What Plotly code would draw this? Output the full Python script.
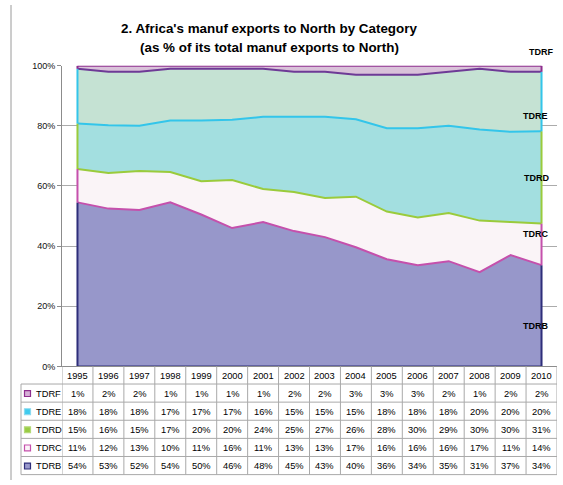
import numpy as np
import plotly.graph_objects as go

# ---------------- data ----------------
years = [str(y) for y in range(1995, 2011)]
tdrb = [54, 53, 52, 54, 50, 46, 48, 45, 43, 40, 36, 34, 35, 31, 37, 34]
tdrc = [11, 12, 13, 10, 11, 16, 11, 13, 13, 17, 16, 16, 16, 17, 11, 14]
tdrd = [15, 16, 15, 17, 20, 20, 24, 25, 27, 26, 28, 30, 29, 30, 30, 31]
tdre = [18, 18, 18, 17, 17, 17, 16, 15, 15, 15, 18, 18, 18, 20, 20, 20]
tdrf = [1, 2, 2, 1, 1, 1, 1, 2, 2, 3, 3, 3, 2, 1, 2, 2]
series_names = ["TDRB", "TDRC", "TDRD", "TDRE", "TDRF"]
series_values = [tdrb, tdrc, tdrd, tdre, tdrf]
y_ticks = [0, 20, 40, 60, 80, 100]

title_lines = ["2. Africa's manuf exports to North by Category",
               "(as % of its total manuf exports to North)"]

# ---------------- styles ----------------
W, H = 563, 485
FONT = "Liberation Sans, Arial, sans-serif"
fills = ["#9797CA", "#FAF4F7", "#A3DFE0", "#C5E2D3", "#D9C1D9"]
borders = ["#2E2E7A", "#C550AC", "#9ACB3C", "#33C5EA", "#8E2F8E"]
top_lines = ["#C550AC", "#9ACB3C", "#33C5EA", "#6E3A96", "#8E2F8E"]
key_fill = ["#9999CC", "#FBF3F8", "#99CC44", "#3FCBEE", "#D6B0D6"]
key_line = ["#2E2E7A", "#C550AC", "#B5D978", "#8ADAF0", "#8E2F8E"]
grid_col = "#ABABAB"
tbl_col = "#A9A9A9"


def X(px):
    return px / W


def Y(py):
    return 1 - py / H


vals = np.array(series_values, dtype=float)
pct = vals / vals.sum(axis=0) * 100
cum_hi = np.cumsum(pct, axis=0)
cum_lo = cum_hi - pct
xi = list(range(len(years)))

fig = go.Figure()

# stacked areas; the boundary line on top of each band takes the border colour
# of the band above (as in the reference, where each area's outline overlaps)
for i, name in enumerate(series_names):
    fig.add_trace(go.Scatter(
        x=xi, y=pct[i], name=name, stackgroup="one", mode="lines",
        line=dict(color=top_lines[i], width=2), fillcolor=fills[i],
        hoverinfo="skip", showlegend=False, cliponaxis=False))

# bottom edge of lowest band
fig.add_trace(go.Scatter(x=[xi[0], xi[-1]], y=[0, 0], mode="lines",
                         line=dict(color=borders[0], width=2),
                         hoverinfo="skip", showlegend=False, cliponaxis=False))
# vertical side edges of each band
for i in range(len(series_names)):
    for j in (0, len(xi) - 1):
        fig.add_trace(go.Scatter(
            x=[xi[j], xi[j]], y=[cum_lo[i][j], cum_hi[i][j]], mode="lines",
            line=dict(color=borders[i], width=2),
            hoverinfo="skip", showlegend=False, cliponaxis=False))

annotations = []
shapes = []

# title
for k, t in enumerate(title_lines):
    annotations.append(dict(text="<b>%s</b>" % t, x=X(269), y=Y(24 + 19.5 * k),
                            xref="paper", yref="paper", showarrow=False,
                            xanchor="center", yanchor="middle",
                            font=dict(family=FONT, size=13.4, color="#000")))

# series labels at right
label_pos = {"TDRF": (541, 48), "TDRE": (535, 113), "TDRD": (536, 177),
             "TDRC": (535, 234), "TDRB": (535, 328)}
for name in series_names:
    px, py = label_pos[name]
    annotations.append(dict(text="<b>%s</b>" % name, x=X(px), y=Y(py),
                            xref="paper", yref="paper", showarrow=False,
                            xanchor="center", yanchor="middle",
                            font=dict(family=FONT, size=9, color="#000")))

# data table
row_edges = [369, 387, 405.5, 424, 442.5, 461, 479.5]
tbl_left, tbl_right = 21, 557
# header years
for j, yr in enumerate(years):
    annotations.append(dict(text=yr, x=xi[j], y=Y((row_edges[0] + row_edges[1]) / 2 + 0.5),
                            xref="x", yref="paper", showarrow=False,
                            xanchor="center", yanchor="middle",
                            font=dict(family=FONT, size=9.3, color="#000")))
order = list(range(len(series_names)))[::-1]  # TDRF at top
for r, i in enumerate(order):
    yc = (row_edges[r + 1] + row_edges[r + 2]) / 2 + 0.5
    for j in range(len(xi)):
        annotations.append(dict(text="%d%%" % series_values[i][j], x=xi[j], y=Y(yc),
                                xref="x", yref="paper", showarrow=False,
                                xanchor="center", yanchor="middle",
                                font=dict(family=FONT, size=9.3, color="#000")))
    annotations.append(dict(text=series_names[i], x=X(34), y=Y(yc),
                            xref="paper", yref="paper", showarrow=False,
                            xanchor="left", yanchor="middle",
                            font=dict(family=FONT, size=9.3, color="#000")))
    shapes.append(dict(type="rect", xref="paper", yref="paper",
                       x0=X(24.5), x1=X(30.5), y0=Y(yc - 3), y1=Y(yc + 3),
                       fillcolor=key_fill[i], line=dict(color=key_line[i], width=1.2)))

# table grid lines
for j in range(len(xi) + 1):
    shapes.append(dict(type="line", xref="x", yref="paper",
                       x0=j - 0.5, x1=j - 0.5, y0=Y(row_edges[0]), y1=Y(row_edges[-1]),
                       line=dict(color=tbl_col, width=1)))
shapes.append(dict(type="line", xref="paper", yref="paper",
                   x0=X(tbl_left), x1=X(tbl_left), y0=Y(row_edges[1]), y1=Y(row_edges[-1]),
                   line=dict(color=tbl_col, width=1)))
for e in row_edges[1:]:
    shapes.append(dict(type="line", xref="paper", yref="paper",
                       x0=X(tbl_left), x1=X(tbl_right), y0=Y(e), y1=Y(e),
                       line=dict(color=tbl_col, width=1)))
# chart-area left border
shapes.append(dict(type="line", xref="paper", yref="paper",
                   x0=X(11), x1=X(11), y0=0, y1=1,
                   line=dict(color="#9A9A9A", width=1)))

fig.update_layout(
    width=W, height=H,
    margin=dict(l=0, r=0, t=0, b=0),
    paper_bgcolor="white", plot_bgcolor="white",
    font=dict(family=FONT, size=9, color="#000"),
    annotations=annotations, shapes=shapes,
    xaxis=dict(domain=[X(62), X(557)], range=[-0.5, len(xi) - 0.5],
               showticklabels=False, showgrid=False, zeroline=False,
               showline=True, linecolor="#8C8C8C", linewidth=1, ticks=""),
    yaxis=dict(domain=[Y(369), Y(62)], range=[0, 100],
               tickvals=y_ticks, ticktext=["%d%%" % v for v in y_ticks],
               showline=True, linecolor="#8C8C8C", linewidth=1,
               ticks="outside", ticklen=4, tickcolor="#8C8C8C",
               showgrid=True, gridcolor=grid_col, gridwidth=1, zeroline=False,
               tickfont=dict(family=FONT, size=9, color="#111")),
)

fig.write_html("out.html",
               config={"displayModeBar": False, "staticPlot": True},
               post_script="document.body.style.margin='0';"
                           "document.body.style.overflow='hidden';")
